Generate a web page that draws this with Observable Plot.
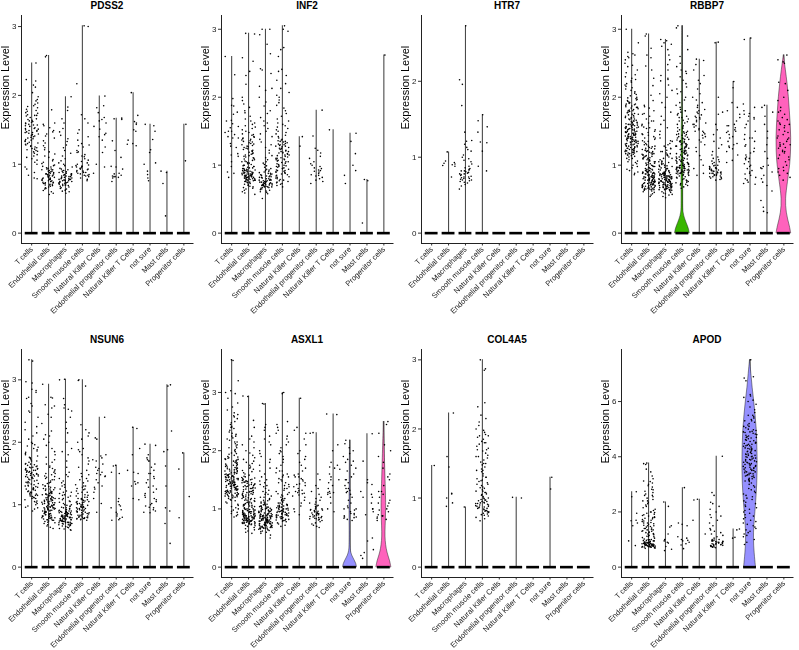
<!DOCTYPE html>
<html><head><meta charset="utf-8">
<script src="https://cdn.jsdelivr.net/npm/d3@7"></script>
<script src="https://cdn.jsdelivr.net/npm/@observablehq/plot@0.6"></script>
<style>
html,body{margin:0;padding:0;background:#fff;}
body{width:799px;height:650px;overflow:hidden;position:relative;font-family:"Liberation Sans",Arial,sans-serif;}
.panel{position:absolute;width:200px;height:334px;}
.title{position:absolute;left:21px;width:172px;top:0;height:12px;line-height:12px;text-align:center;font-weight:bold;font-size:10px;color:#000;}
.panel svg{position:absolute;left:0;top:12px;overflow:visible;will-change:transform;}
</style></head><body>
<script>
// categories
const cellTypes = ["T cells","Endothelial cells","Macrophages","Smooth muscle cells","Natural Killer Cells","Endothelial progenitor cells","Natural Killer T Cells","not sure","Mast cells","Progenitor cells"];
const palette = ["#F8766D","#D89000","#A3A500","#39B600","#00BF7D","#00BFC4","#00B0F6","#9590FF","#E76BF3","#FF62BC"];
const genes = ["PDSS2","INF2","HTR7","RBBP7","NSUN6","ASXL1","COL4A5","APOD"];
const yTicks = {PDSS2:[0,1,2,3],INF2:[0,1,2,3],HTR7:[0,1,2],RBBP7:[0,1,2,3],NSUN6:[0,1,2,3],ASXL1:[0,1,2,3],COL4A5:[0,1,2,3],APOD:[0,2,4,6]};

// non-zero expression values (x100) per cell type, in cellTypes order
const PDSS2 = [
 [247,223,221,215,212,204,198,194,192,189,187,185,184,182,180,178,177,175,174,172,171,170,168,166,165,164,162,161,160,159,158,157,156,155,153,152,151,150,149,148,147,146,145,143,142,141,140,139,138,137,136,135,133,132,131,130,128,127,126,124,123,122,121,120,118,116,114,112,110,108,106,103,100,96,93,88,84,80,79,171,163,157,149,144,134,129,125,119,152,146],
 [258,256,179,160,158,156,153,149,147,144,141,138,134,131,127,124,121,118,115,112,110,107,105,103,101,99,98,96,95,94,93,92,91,90,90,89,88,87,86,86,85,84,84,83,82,81,81,80,79,79,78,77,77,76,75,75,74,73,73,72,71,70,70,69,68,67,66,65,64,62,60,58,56,93,88,83,78,74,71,97,92,86,80,76,72],
 [198,183,178,166,160,152,147,142,137,133,128,124,120,116,112,108,105,102,100,98,96,94,93,92,91,90,89,88,87,86,85,85,84,83,83,82,81,81,80,80,79,78,78,77,77,76,76,75,75,74,74,73,72,72,71,70,70,69,68,67,66,65,64,63,62,61,60,58,88,84,79,76,73,71,86,82,78,74,69],
 [301,300,217,172,166,160,150,145,140,135,130,128,125,120,117,114,111,108,106,104,102,100,99,98,97,96,95,94,93,92,91,90,89,88,87,86,85,84,83,82,80,78,76,97,93,88,84,112,118,127],
 [199,185,175,168,165,160,155,151,145,140,135,125,117,100,96,87,182,163,143],
 [167,166,165,134,120,110,97,96,86,84,82,82,81,80,75,83,87,93],
 [204,171,162,160,158,150,148,135,130,129,127],
 [158,156,148,136,121,117,102,100,90,85,80,76],
 [90,88,72,25],
 [158,105]
];
const INF2 = [
 [260,233,198,188,187,175,166,161,157,155,150,145,142,140,132,126,117,115,113,105,98,90,88,82,148,140,128,150,178,165],
 [294,293,258,253,238,232,219,200,195,190,185,180,177,172,168,165,162,160,158,156,154,152,150,148,146,145,144,142,141,140,139,138,137,136,135,134,133,132,131,130,129,128,127,126,125,124,123,122,121,120,119,118,117,116,115,114,113,112,111,110,109,108,107,106,105,105,104,103,102,101,100,100,99,98,98,97,96,96,95,95,94,94,93,93,92,92,91,91,90,90,89,89,88,88,87,87,87,86,86,85,85,85,84,84,83,83,83,82,82,81,81,81,80,80,79,79,78,78,77,77,76,76,75,75,74,73,72,71,70,69,68,67,66,65,63,61,59,57,90,88,86,84,82,80,78,92,87,83,79,85],
 [300,300,292,278,264,242,240,235,216,213,210,200,193,187,180,176,170,165,162,158,154,150,146,142,138,134,130,126,122,118,114,111,108,105,103,101,99,97,95,94,93,92,91,90,89,88,87,86,85,84,83,82,81,80,80,79,78,78,77,76,76,75,75,74,74,73,73,72,72,71,71,70,70,69,69,68,68,67,67,66,65,64,63,62,61,60,58,51,86,82,78,75,72,70,68,84,79,74,71,88,83,77,73],
 [305,300,297,273,270,260,241,238,232,225,220,213,207,203,200,196,192,188,184,180,176,172,168,165,162,160,158,156,154,152,150,148,146,144,142,140,138,137,136,135,134,133,132,131,130,129,128,127,126,125,124,123,122,121,120,119,118,117,116,115,114,113,112,111,110,109,108,107,106,105,104,103,102,101,100,99,98,97,96,95,94,93,92,91,90,89,88,87,86,85,84,83,82,81,80,79,78,77,76,75,74,73,72,70,68,130,125,120,115,110,105,100,95,90,135,128,118,108,98,92],
 [142,128],
 [181,143,125,122,118,113,110,105,102,100,98,96,95,93,92,91,90,88,86,85,84,82,80,78,76,73],
 [152],
 [147,135,117,100,92,85,73],
 [79,77,15],
 [262]
];
const HTR7 = [
 [],
 [107,95,93,92,91,90,89,88,74],
 [273,202,196,168,133,122,121,117,113,110,108,103,100,98,96,94,91,88,85,84,83,82,81,80,79,78,77,76,75,74,73,72,72,71,70,69,68,67,66,64,62,58,86,82,78,74,70],
 [156,148,140,120,108,88,82,133,119],
 [],[],[],[],[],[]
];
const RBBP7 = [
 [300,280,266,264,262,260,258,255,250,247,245,240,236,233,230,228,226,224,222,220,218,216,214,212,210,208,206,204,202,200,199,198,197,196,195,194,193,192,191,190,189,188,187,186,185,184,183,182,181,180,179,178,177,176,175,174,173,172,171,170,169,168,167,166,165,164,163,162,161,160,160,159,158,157,156,155,155,154,153,152,151,150,150,149,148,147,146,145,145,144,143,142,141,140,140,139,138,137,136,135,135,134,133,132,131,130,129,128,127,126,125,124,123,122,121,120,119,118,117,116,115,114,113,112,110,108,106,104,102,100,98,96,94,92,90,88,86,165,162,158,155,152,148,145,142,138,135,132,128,125,122,118,115,160,156,150,146,141,137,133,129,124,120,157,153,147,143,139,134,130,126,121,117,190,185,180,175,170,168,163,159,154,149,144,140,136,131,127,123,119,110,105],
 [293,290,272,262,258,246,240,228,217,203,195,188,186,184,180,176,172,168,165,162,160,158,156,154,152,150,148,146,144,142,140,138,136,134,132,130,128,127,126,125,124,123,122,121,120,119,118,117,116,115,114,113,112,111,110,109,108,107,106,105,104,103,102,101,100,99,98,97,96,95,94,93,92,91,90,90,89,89,88,88,87,87,86,86,85,85,84,84,83,83,82,82,81,81,80,80,79,79,78,78,77,77,76,76,75,75,74,74,73,73,72,72,71,71,70,70,69,69,68,68,67,67,66,66,65,65,64,64,63,62,61,60,58,56,54,95,93,91,89,87,85,83,81,79,77,75,73,71,69,67,65,94,92,90,88,86,84,82,80,78,76,74,72,70,68,66,64,120,115,110,105,100,118,113,108,103,98,130,125,135,140,145,155,165,175,128,122,116,111],
 [285,283,280,278,275,270,262,255,248,240,232,228,226,224,218,210,205,200,192,185,178,172,166,160,155,150,145,140,136,132,128,125,122,120,118,116,114,112,110,108,106,105,104,103,102,101,100,99,98,97,96,95,94,93,92,91,90,89,88,88,87,87,86,86,85,85,84,84,83,83,82,82,81,81,80,80,79,79,78,78,77,77,76,76,75,75,74,74,73,73,72,72,71,71,70,70,69,69,68,68,67,67,66,66,65,65,64,64,63,63,62,61,60,59,58,57,56,54,52,90,88,86,84,82,80,78,76,74,72,70,68,66,64,89,87,85,83,81,79,77,75,73,71,69,67,65,91,87,83,79,75,71,67,100,95,110,115,120,130,126,135,124,117,105,98,93,88,84,80,76],
 [305,302,290,270,260,250,245,240,238,235,230,225,220,215,212,208,205,200,196,192,188,185,182,180,178,176,174,172,170,168,166,164,162,160,158,156,154,152,150,149,148,147,146,145,144,143,142,141,140,139,138,137,136,135,134,133,132,131,130,129,128,127,126,125,124,123,122,121,120,119,118,117,116,115,114,113,112,111,110,109,108,107,106,105,104,103,102,101,100,100,99,99,98,98,97,97,96,96,95,95,94,94,93,93,92,92,91,91,90,90,89,89,88,88,87,86,85,84,83,82,81,80,79,78,77,76,75,74,73,72,71,70,68,66,140,135,130,125,120,115,110,105,100,95,90,85,138,132,127,122,117,112,107,102,97,92,87,128,118,108,98,88,104,101,96,93,91,89,150,145,155,165,170,180,103],
 [256,254,248,240,232,225,220,212,205,200,196,192,188,185,182,180,178,176,174,172,170,168,166,164,162,160,158,156,154,152,150,148,146,144,142,140,137,134,130,126,120,114,108,100,95,88,85,170,160,150],
 [281,280,200,178,175,160,152,145,140,135,130,125,120,115,112,110,108,106,104,102,100,99,98,97,96,95,94,93,92,91,90,90,89,88,88,87,86,86,85,84,83,82,81,80,79,78,92,95,89,87,85,83,100,105,96,94,91,88],
 [223,214,192,185,180,175,170,165,160,158,155,152,150,148,145,142,140,135,130,128,126,124,120,115,107,104,158,150,132],
 [287,285,190,185,180,176,175,172,168,165,160,155,150,145,140,138,135,130,128,125,120,118,115,112,110,108,105,102,100,98,95,92,90,88,85,82,80,78,75,73,72,170,140,110,87],
 [188,185,178,172,160,150,140,130,120,110,100,98,96,95,90,85,80,75,70,62,48,38,32,30],
 [262,255,252,250,222,220,210,200,195,185,180,178,175,170,167,165,162,160,158,155,152,150,148,145,143,140,138,135,133,131,130,128,126,125,122,120,118,115,112,110,108,105,100,97,95,92,90,88,85,82,78,160,140,120,130]
];
const NSUN6 = [
 [332,330,297,295,285,283,280,272,270,262,258,250,248,240,232,225,220,215,210,205,200,198,196,194,192,190,188,186,184,182,180,178,176,174,172,170,168,166,165,164,163,162,161,160,159,158,157,156,155,154,153,152,151,150,150,149,148,148,147,146,145,144,143,142,141,140,139,138,137,136,135,134,133,132,131,130,129,128,127,126,125,124,123,122,121,120,119,118,117,116,115,114,113,112,111,110,108,106,104,102,100,98,96,95,93,90,155,152,150,148,146,144,160,158,156,154,175,170,165,135,130,125,120,115,110,105],
 [293,272,271,260,258,255,245,240,230,218,212,210,205,200,195,190,185,180,176,172,168,165,162,160,158,156,154,152,150,148,146,144,142,140,138,136,134,132,130,129,128,127,126,125,124,123,122,121,120,119,118,117,116,115,114,113,112,111,110,109,108,107,106,105,104,103,102,101,100,99,98,97,96,95,94,93,92,91,90,89,88,87,86,85,84,83,82,81,80,79,78,77,76,75,74,73,72,71,70,68,66,64,62,120,118,116,114,112,110,108,106,104,102,100,98,96,94,92,90,88,86,84,82,80,78,76,115,111,107,103,99,95,91,87,83,79,75,125,117,109,101,93,85,77,97,89,81,100,90,80,105,95,85,130,135,140,145,150],
 [301,300,270,260,255,253,250,240,232,222,215,200,190,185,180,170,160,152,148,145,142,138,135,132,128,125,122,120,118,116,114,112,110,108,106,104,102,100,99,98,97,96,95,94,93,92,91,90,90,89,89,88,88,87,87,86,86,85,85,84,84,83,83,82,82,81,81,80,80,79,79,78,78,77,77,76,76,75,75,74,74,73,73,72,72,71,71,70,70,69,68,67,66,65,64,63,62,61,60,59,90,88,86,84,82,80,78,76,74,72,70,68,66,89,87,85,83,81,79,77,75,73,71,69,92,86,80,74,68,95,100,105,110,115,120,130],
 [300,299,290,228,220,215,210,205,200,190,188,185,180,175,170,165,160,155,150,148,145,142,140,138,135,132,130,128,126,124,122,120,118,116,114,112,110,109,108,107,106,105,104,103,102,101,100,99,98,97,96,95,94,93,92,91,90,89,88,87,86,85,84,83,82,81,80,80,79,79,78,78,77,77,76,75,110,105,100,95,90,85,80,115,108,102,97,92,87,82,78,120,112,104,96,88,83,125,130,94],
 [240,207,205,180,178,175,170,165,160,155,152,150,148,145,140,135,130,128,125,120,110,102,88,172,158,146],
 [163,152,150,110,105,100,98,95,92,88,85,82,80,78,76,75,162],
 [224,222,190,180,155,152,150,137,135,133,130,110,108],
 [197,195,180,175,172,170,165,160,155,150,145,142,140,135,130,128,125,120,118,115,112,110,108,105,102,100,98,96,95,92,90,88,87,170,150],
 [292,290,218,188,185,162,130,95,90,70,38],
 [183,157,113,79]
];
const ASXL1 = [
 [356,355,320,303,300,298,290,282,275,270,265,262,258,255,250,248,245,242,240,238,235,232,230,228,225,222,220,218,215,212,210,208,205,202,200,198,196,194,192,190,189,188,187,186,185,184,183,182,181,180,179,178,177,176,175,174,173,172,171,170,169,168,167,166,165,164,163,162,161,160,160,159,158,157,156,155,155,154,153,152,151,150,150,149,148,147,146,145,145,144,143,142,141,140,140,139,138,137,136,135,134,133,132,131,130,129,128,127,126,125,124,123,122,121,120,118,116,114,112,110,108,106,104,102,100,98,96,94,92,90,88,86,165,162,158,155,152,148,145,142,138,135,132,128,125,122,160,156,150,146,141,137,133,129,124,157,153,147,143,139,134,130,126,121,175,170,168,163,159,154,149,144,140,136,131,127,123,119,115,185,195,205,215,225,240,260],
 [294,293,252,240,225,220,215,210,205,200,196,192,188,185,182,180,178,175,172,170,168,166,164,162,160,158,156,155,154,153,152,151,150,149,148,147,146,145,144,143,142,141,140,139,138,137,136,135,134,133,132,131,130,129,128,127,126,125,124,123,122,121,120,119,118,117,116,115,114,113,112,111,110,109,108,107,106,105,104,103,102,101,100,99,98,97,96,95,94,93,92,91,90,90,89,89,88,88,87,87,86,86,85,85,84,84,83,83,82,82,81,81,80,80,79,79,78,78,77,77,76,76,75,75,74,74,73,72,71,70,68,66,64,62,60,58,150,145,140,135,130,125,120,115,110,105,100,95,90,85,80,75,148,142,136,130,124,118,112,106,100,94,88,82,76,146,138,128,118,108,98,92,86,80,74,95,91,87,83,79,93,89,85,81,77,97,99,96,92,88,84],
 [281,280,245,240,235,225,220,215,210,200,195,190,185,180,175,170,165,160,155,150,145,140,135,132,128,125,122,120,118,116,114,112,110,108,107,106,105,104,103,102,101,100,99,98,97,96,95,94,93,92,91,90,90,89,89,88,88,87,87,86,86,85,85,84,84,83,83,82,82,81,81,80,80,79,79,78,78,77,77,76,76,75,75,74,74,73,73,72,72,71,71,70,70,69,69,68,68,67,67,66,66,65,64,63,62,61,60,58,55,50,105,100,95,90,85,80,75,70,103,98,93,88,83,78,73,68,101,96,91,86,81,76,71,66,99,94,89,84,79,74,69,97,92,87,82,77,72,67,110,115,120,125,130,138,142,148,112,108,104,96,88,80,76,72],
 [300,298,250,245,240,235,230,225,220,215,210,205,200,198,195,190,185,180,175,170,165,162,160,158,155,152,150,148,145,142,140,138,135,132,130,128,126,124,122,120,118,116,114,112,110,108,107,106,105,104,103,102,101,100,99,98,97,96,95,94,93,92,91,90,89,88,87,86,85,84,83,82,81,80,79,78,76,74,72,70,115,110,105,100,95,90,85,80,112,106,101,96,92,88,84,118,108,98,94,90,86,82,103,97,93,89,125,135,145,155,165],
 [290,240,235,230,220,210,200,195,190,185,180,175,170,165,160,158,155,152,150,148,145,142,140,138,135,132,130,128,126,124,122,120,115,110,105,100,95,90,155,143,131,127],
 [231,230,160,150,140,135,130,125,120,118,115,112,110,108,106,104,102,100,99,98,97,96,95,94,93,92,91,90,89,88,87,86,85,84,83,82,81,80,78,76,74,72,70,68,100,95,90,85,105,98,92,87,83],
 [263,262,210,200,180,175,172,170,168,160,155,150,145,140,135,130,128,127,125,120,110,100,95,150,128],
 [218,212,205,200,195,190,185,182,180,175,170,165,160,155,150,145,140,135,132,130,128,125,120,115,110,105,102,100,98,95,92,90,88,86,85,84,82,80,100,92,86,135,150],
 [229,182,150,145,142,130,125,120,110,100,95,90,50,45,30,25,20,15,100,120],
 [250,245,230,210,200,190,180,170,160,155,150,140,130,125,120,115,110,105,100,95,90,88,86,84,82,80,130,110,98,88]
];
const COL4A5 = [
 [147],
 [223,160,145,107,106,100,93,88],
 [87],
 [300,287,285,238,232,220,215,210,205,200,198,195,192,190,188,185,182,180,178,175,172,170,168,165,162,160,158,155,152,150,148,145,142,140,138,135,132,130,128,126,124,122,120,118,116,114,112,110,108,106,104,102,100,99,98,97,96,95,94,93,92,91,90,89,88,87,86,85,84,83,82,81,80,79,78,77,76,75,74,72,70,67,120,110,100,95,90,85,80,115,105,97,92,87,82,125,108,93,88,130,140,150,160,170,180,190],
 [],
 [100,101],
 [],
 [130,113],
 [],[]
];
const APOD = [
 [273,255,195,170,168,160,150,95,78],
 [377,375,372,355,345,330,320,312,310,305,300,295,290,282,275,270,265,260,255,250,245,240,235,230,225,220,215,210,205,200,198,195,192,190,187,185,182,180,177,175,172,170,167,165,162,160,157,155,152,150,147,145,142,140,137,135,132,130,127,125,122,120,117,115,112,110,107,105,102,100,99,98,97,96,95,94,93,92,91,90,90,89,89,88,88,87,87,86,86,85,85,84,84,83,83,82,82,81,81,80,80,79,79,78,78,77,77,76,76,75,75,74,74,73,73,72,72,71,70,69,68,120,110,100,95,90,85,80,75,160,150,140,130,180,200,240,260,280,135,125,115],
 [236,220,150,145,120,100,95,90,87,75,65,60],
 [288,160,155,150,110,105,100,97,95,90,85,80,67],
 [246,243,170,120],
 [402,270,260,235,230,220,210,200,190,185,180,170,160,150,140,135,130,125,120,115,110,105,100,98,96,95,94,93,92,91,90,89,88,87,86,85,84,83,82,81,80,79,78,77,76,75,74,73,72,70,100,95,90,85],
 [138,135,108,105],
 [751,690,685,675,625,620,615,605,600,590,580,570,560,550,545,540,535,530,525,520,515,510,505,500,498,495,492,490,488,485,482,480,478,475,472,470,468,465,462,460,458,455,452,450,448,445,442,440,438,435,432,430,428,425,422,420,418,415,412,410,408,405,402,400,398,395,392,390,388,385,382,380,378,375,372,370,368,365,362,360,358,355,352,350,348,345,342,340,338,335,332,330,328,325,322,320,318,315,312,310,305,300,295,290,285,280,275,270,265,260,255,250,245,240,235,230,225,220,215,210,205,200,195,190,185,180,175,170,165,160,155,150,145,140,135,130,125,120,115,110,100,90,82,450,440,430,420,410,400,390,380,370,360,350,340,330,445,425,405,385,365,345,470,490,510,530,550,395,375,355,335,315],
 [],[]
];
const geneValues = {PDSS2, INF2, HTR7, RBBP7, NSUN6, ASXL1, COL4A5, APOD};

// visible violin bodies: expression levels and half-widths (fraction of category step)
const violinGenes  = ["RBBP7","RBBP7","ASXL1","ASXL1","APOD"];
const violinGroups = [3, 9, 7, 9, 7];
const violinLevels = [
 [0,0.05,0.1,0.15,0.2,0.25,0.3,0.35,0.5,0.8,1.0,1.2,1.5,1.8,2.2,2.6,3.05],
 [0,0.1,0.2,0.3,0.4,0.5,0.6,0.8,1.0,1.2,1.4,1.6,1.8,2.0,2.2,2.4,2.62],
 [0,0.05,0.1,0.15,0.2,0.25,0.3,0.4,0.6,0.9,1.2,1.5,1.8,2.18],
 [0,0.1,0.2,0.3,0.45,0.6,0.8,1.0,1.2,1.5,1.8,2.1,2.3,2.5],
 [0,0.5,1.0,1.5,2.0,2.5,3.0,3.5,4.0,4.5,5.0,5.5,6.0,6.5,7.0,7.51]
];
const violinHalfWidths = [
 [0.43,0.40,0.33,0.25,0.17,0.11,0.07,0.05,0.045,0.05,0.05,0.045,0.04,0.015,0.008,0.004,0],
 [0.43,0.36,0.25,0.17,0.13,0.13,0.16,0.27,0.38,0.43,0.44,0.41,0.35,0.30,0.22,0.12,0],
 [0.41,0.38,0.30,0.21,0.12,0.07,0.04,0.025,0.02,0.03,0.025,0.02,0.012,0],
 [0.44,0.38,0.26,0.17,0.10,0.09,0.12,0.14,0.13,0.10,0.07,0.04,0.02,0],
 [0.35,0.27,0.22,0.25,0.32,0.38,0.43,0.45,0.45,0.43,0.40,0.33,0.25,0.15,0.08,0]
];

function hash(n){ const s = Math.sin(n*127.1 + 311.7)*43758.5453; return s - Math.floor(s); }

const FONT = '"Liberation Sans", Arial, Helvetica, sans-serif';

genes.forEach((gene, gIdx) => {
  const col = gIdx % 4, row = Math.floor(gIdx / 4);
  const groups = geneValues[gene];
  const dots = [], zeros = [], lines = [];
  groups.forEach((vals, gi) => {
    const i = gi + 1;
    zeros.push({i});
    if (vals.length) lines.push({i, max: d3.max(vals) / 100});
    vals.forEach((v, k) => dots.push({x: i + (hash(gIdx*5000 + gi*400 + k) - 0.5) * 0.8, y: v / 100}));
  });
  const maxY = d3.max(lines, d => d.max);
  const pad = maxY * 0.05;

  const violinMarks = [];
  violinGenes.forEach((vg, vi) => {
    if (vg !== gene) return;
    const i = violinGroups[vi] + 1;
    const rows = violinLevels[vi].map((lv, k) => ({lv, a: i - violinHalfWidths[vi][k], b: i + violinHalfWidths[vi][k]}));
    violinMarks.push(Plot.areaX(rows, {y: "lv", x1: "a", x2: "b", fill: palette[violinGroups[vi]], stroke: "#222", strokeWidth: 0.5, curve: "basis"}));
  });

  const div = document.createElement("div");
  div.className = "panel";
  div.style.left = (col * 200) + "px";
  div.style.top = (row * 334) + "px";
  const t = document.createElement("div");
  t.className = "title";
  t.textContent = gene;
  div.appendChild(t);

  const svg = Plot.plot({
    width: 200, height: 302,
    marginTop: 3, marginLeft: 21, marginRight: 6.5, marginBottom: 71,
    x: {domain: [0.4, 10.6], axis: null},
    y: {domain: [-pad, maxY + pad], axis: null},
    style: {fontFamily: FONT, fontSize: "7.6px", color: "#111", background: "transparent", overflow: "visible"},
    marks: [
      Plot.ruleX(lines, {x: "i", y1: 0, y2: "max", stroke: "#4a4a4a", strokeWidth: 1.1}),
      ...violinMarks,
      Plot.ruleY(zeros, {x1: d => d.i - 0.38, x2: d => d.i + 0.38, y: 0, stroke: "#000", strokeWidth: 2.6}),
      Plot.dot(dots, {x: "x", y: "y", r: 0.8, fill: "#000", stroke: null}),
      Plot.axisY({ticks: yTicks[gene], tickFormat: "d", tickSize: 3, tickPadding: 2, label: null, fontSize: 8, stroke: "#333", fill: "#1a1a1a"}),
      Plot.axisX({ticks: d3.range(1, 11), tickFormat: d => cellTypes[d - 1], tickRotate: -45, tickSize: 2.5, tickPadding: 2, label: null, fontSize: 7.6, stroke: "#333", fill: "#1a1a1a"}),
      Plot.ruleX([0.4], {stroke: "#222", strokeWidth: 1}),
      Plot.ruleY([-pad], {stroke: "#222", strokeWidth: 1}),
      Plot.text(["Expression Level"], {frameAnchor: "left", dx: -16, rotate: -90, fontSize: 11, fill: "#000"})
    ]
  });
  div.appendChild(svg);
  document.body.appendChild(div);
});
</script>
</body></html>
